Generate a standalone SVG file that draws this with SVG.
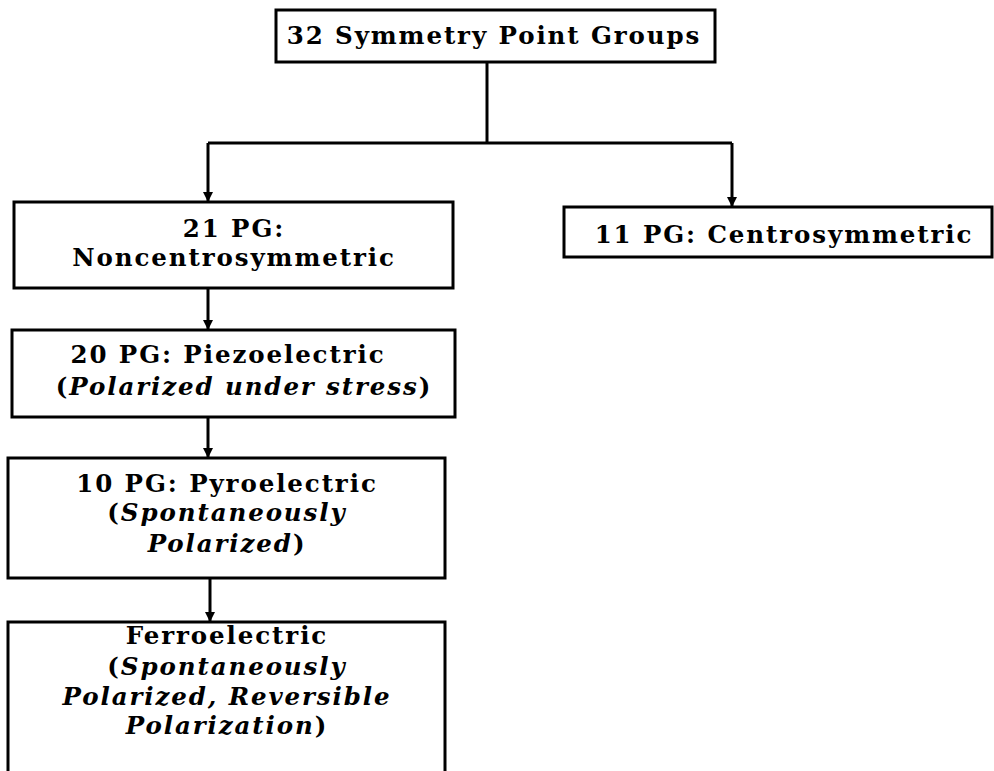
<svg xmlns="http://www.w3.org/2000/svg" width="994" height="771" viewBox="0 0 994 771">
<defs>
<style>
.box{fill:#fff;stroke:#000;stroke-width:3}
.t{font-family:"DejaVu Serif","Liberation Serif",serif;font-weight:bold;font-size:24.5px;letter-spacing:1.9px;fill:#000;text-anchor:middle}
.i{font-style:italic}
.ln{fill:none;stroke:#000;stroke-width:3}
</style>
<marker id="ah" markerWidth="10" markerHeight="10" refX="9" refY="5" orient="auto" markerUnits="userSpaceOnUse">
<path d="M0,0 L10,5 L0,10 Z" fill="#000"/>
</marker>
</defs>
<rect width="994" height="771" fill="#fff"/>
<g id="connectors">
<path class="ln" d="M487,62 V143"/>
<path class="ln" d="M208,143 H732"/>
<path class="ln" d="M208,143 V201" marker-end="url(#ah)"/>
<path class="ln" d="M732,143 V206" marker-end="url(#ah)"/>
<path class="ln" d="M208,288 V329" marker-end="url(#ah)"/>
<path class="ln" d="M208,417 V457" marker-end="url(#ah)"/>
<path class="ln" d="M210,578 V621" marker-end="url(#ah)"/>
</g>
<g id="n32">
<rect class="box" x="276" y="10" width="439" height="52"/>
<text class="t" x="494" y="44">32 Symmetry Point Groups</text>
</g>
<g id="n21">
<rect class="box" x="14" y="202" width="439" height="86"/>
<text class="t" x="234" y="237">21 PG:</text>
<text class="t" x="234" y="266">Noncentrosymmetric</text>
</g>
<g id="n11">
<rect class="box" x="564" y="207" width="428" height="50"/>
<text class="t" x="784" y="243">11 PG: Centrosymmetric</text>
</g>
<g id="n20">
<rect class="box" x="12" y="330" width="443" height="87"/>
<text class="t" x="228" y="363">20 PG: Piezoelectric</text>
<text class="t" x="244" y="395">(<tspan class="i">Polarized under stress</tspan>)</text>
</g>
<g id="n10">
<rect class="box" x="8" y="458" width="437" height="120"/>
<text class="t" x="227" y="492">10 PG: Pyroelectric</text>
<text class="t" x="227" y="521">(<tspan class="i">Spontaneously</tspan></text>
<text class="t" x="227" y="552"><tspan class="i">Polarized</tspan>)</text>
</g>
<g id="nferro">
<rect class="box" x="8" y="622" width="437" height="160"/>
<text class="t" x="227" y="644">Ferroelectric</text>
<text class="t" x="227" y="675">(<tspan class="i">Spontaneously</tspan></text>
<text class="t" x="227" y="705"><tspan class="i">Polarized, Reversible</tspan></text>
<text class="t" x="227" y="734"><tspan class="i">Polarization</tspan>)</text>
</g>
</svg>
